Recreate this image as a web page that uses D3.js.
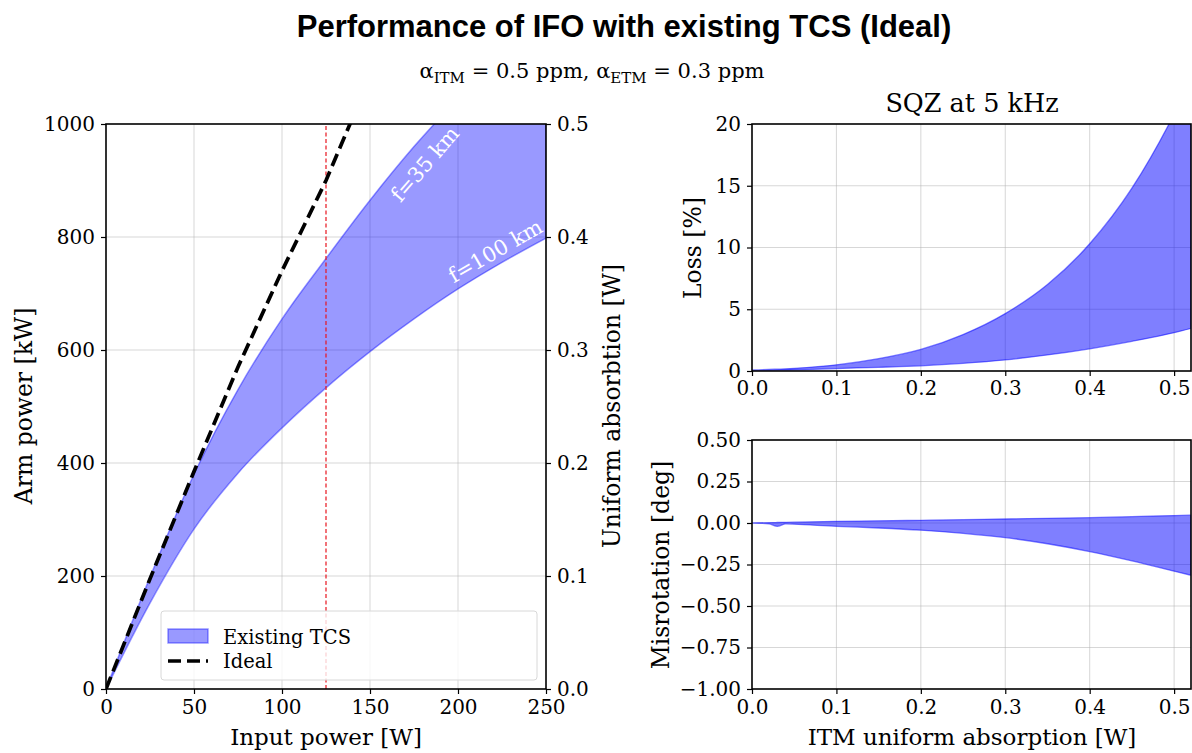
<!DOCTYPE html>
<html>
<head>
<meta charset="utf-8">
<title>Performance of IFO with existing TCS</title>
<style>
  body { margin: 0; background: #fff; }
  text { font-family: "DejaVu Serif", serif; fill: #000; }
  .grid line { stroke: #b0b0b0; stroke-opacity: 0.5; }
</style>
</head>
<body>
<div id="chart"></div>
<script src="https://cdn.jsdelivr.net/npm/d3@7"></script>
<script>
(function(d3) {
  'use strict';

  // left panel: arm power vs input power
  var inputPower = [0, 25, 50, 75, 100, 125, 150, 175, 200, 225, 250];
  var armUpper35 = [0, 198, 380, 530, 655, 762, 865, 960, 1045, 1125, 1200];
  var armLower100 = [0, 152, 283, 382, 462, 533, 597, 655, 708, 755, 798];
  var idealPower = [0, 25, 50, 75, 100, 125, 140];
  var idealArm = [0, 195, 385, 570, 740, 900, 1010];
  var markerPower = 125;

  // right panels: squeezing at 5 kHz vs ITM absorption
  var absorption = [0, 0.02, 0.03, 0.04, 0.05, 0.1, 0.15, 0.2, 0.25, 0.3, 0.35, 0.4, 0.45, 0.5, 0.52];
  var lossUpper = [0.08, 0.12, 0.15, 0.18, 0.22, 0.5, 1.0, 1.75, 2.95, 4.65, 7.0, 10.3, 14.8, 20.8, 23.6];
  var lossLower = [0.05, 0.06, 0.07, 0.08, 0.09, 0.2, 0.3, 0.42, 0.62, 0.9, 1.3, 1.8, 2.4, 3.1, 3.45];
  var misUpper = [0, 0.002, 0.003, 0.004, 0.005, 0.01, 0.013, 0.016, 0.02, 0.024, 0.028, 0.032, 0.038, 0.045, 0.047];
  var misLower = [0, -0.005, -0.02, -0.005, -0.007, -0.02, -0.03, -0.043, -0.062, -0.088, -0.125, -0.172, -0.228, -0.29, -0.315];

  var leftYTicks = [0, 200, 400, 600, 800, 1000];
  var rightYTicks = [0, 0.1, 0.2, 0.3, 0.4, 0.5];
  var leftXTicks = [0, 50, 100, 150, 200, 250];
  var absTicks = [0, 0.1, 0.2, 0.3, 0.4, 0.5];
  var lossTicks = [0, 5, 10, 15, 20];
  var misTicks = [0.5, 0.25, 0, -0.25, -0.5, -0.75, -1.0];

  var width = 1192, height = 753;
  var svg = d3.select('#chart').append('svg')
    .attr('width', width).attr('height', height);

  svg.append('text')
    .attr('x', 624).attr('y', 37)
    .attr('text-anchor', 'middle')
    .style('font-family', '"Liberation Sans", Arial, sans-serif')
    .style('font-weight', 'bold')
    .style('font-size', '31px')
    .text('Performance of IFO with existing TCS (Ideal)');

  var sub = svg.append('text')
    .attr('x', 592).attr('y', 78)
    .attr('text-anchor', 'middle')
    .style('font-size', '21px');
  sub.append('tspan').text('α');
  sub.append('tspan').attr('dy', 5).style('font-size', '15px').text('ITM');
  sub.append('tspan').attr('dy', -5).text(' = 0.5 ppm, α');
  sub.append('tspan').attr('dy', 5).style('font-size', '15px').text('ETM');
  sub.append('tspan').attr('dy', -5).text(' = 0.3 ppm');

  function panel(id, x0, x1, y0, y1) {
    var g = svg.append('g');
    g.append('clipPath').attr('id', id)
      .append('rect').attr('x', x0).attr('y', y0)
      .attr('width', x1 - x0).attr('height', y1 - y0);
    return g;
  }

  function grid(g, xs, ys, x, y) {
    var gg = g.append('g').attr('class', 'grid');
    gg.selectAll('.gx').data(xs).enter().append('line')
      .attr('x1', x).attr('x2', x)
      .attr('y1', y.range()[0]).attr('y2', y.range()[1]);
    gg.selectAll('.gy').data(ys).enter().append('line')
      .attr('y1', y).attr('y2', y)
      .attr('x1', x.range()[0]).attr('x2', x.range()[1]);
  }

  function frame(g, x, y) {
    g.append('rect')
      .attr('x', x.range()[0]).attr('y', y.range()[1])
      .attr('width', x.range()[1] - x.range()[0])
      .attr('height', y.range()[0] - y.range()[1])
      .attr('fill', 'none').attr('stroke', '#000').attr('stroke-width', 1.6);
  }

  function styleAxis(a) {
    a.select('.domain').remove();
    a.selectAll('.tick line').attr('stroke', '#000').attr('stroke-width', 1.2);
    a.selectAll('.tick text')
      .style('font-family', '"DejaVu Serif", serif')
      .style('font-size', '20px');
  }

  function band(xs, lo, hi) {
    return xs.map(function(v, i) { return { x: v, lo: lo[i], hi: hi[i] }; });
  }

  // ---------- left panel ----------
  var xL = d3.scaleLinear().domain([0, 250]).range([106, 546]);
  var yL = d3.scaleLinear().domain([0, 1000]).range([689, 124]);
  var yR = d3.scaleLinear().domain([0, 0.5]).range([689, 124]);
  var gl = panel('clipL', 106, 546, 124, 689);
  grid(gl, [50, 100, 150, 200], [200, 400, 600, 800], xL, yL);

  var dL = band(inputPower, armLower100, armUpper35);
  var areaL = d3.area().curve(d3.curveMonotoneX)
    .x(function(d) { return xL(d.x); })
    .y0(function(d) { return yL(d.lo); })
    .y1(function(d) { return yL(d.hi); });
  gl.append('path').datum(dL).attr('d', areaL)
    .attr('clip-path', 'url(#clipL)')
    .attr('fill', '#0000ff').attr('fill-opacity', 0.4)
    .attr('stroke', '#0000ff').attr('stroke-opacity', 0.4).attr('stroke-width', 1.5);

  gl.append('line')
    .attr('x1', xL(markerPower)).attr('x2', xL(markerPower))
    .attr('y1', 689).attr('y2', 124)
    .attr('stroke', '#e8141e').attr('stroke-width', 1.2)
    .attr('stroke-dasharray', '4,2.5');

  var idealLine = d3.line()
    .x(function(d, i) { return xL(idealPower[i]); })
    .y(function(d) { return yL(d); });
  gl.append('path').datum(idealArm).attr('d', idealLine)
    .attr('clip-path', 'url(#clipL)')
    .attr('fill', 'none').attr('stroke', '#000').attr('stroke-width', 3.7)
    .attr('stroke-dasharray', '13,6');

  // curve labels, rotated along their curve
  function curveLabel(txt, xv, arr, off, along) {
    var i = inputPower.indexOf(xv);
    var xa = xL(inputPower[i - 1]), xb = xL(inputPower[i + 1]);
    var ya = yL(arr[i - 1]), yb = yL(arr[i + 1]);
    var ang = Math.atan2(yb - ya, xb - xa) * 180 / Math.PI;
    gl.append('text')
      .attr('transform', 'translate(' + xL(xv) + ',' + yL(arr[i]) + ') rotate(' + ang + ')')
      .attr('x', along).attr('y', off)
      .attr('text-anchor', 'middle')
      .style('font-size', '21px').style('fill', '#fff')
      .text(txt);
  }
  curveLabel('f=35 km', 175, armUpper35, 27, -6);
  curveLabel('f=100 km', 225, armLower100, -6, 0);

  frame(gl, xL, yL);

  styleAxis(gl.append('g').attr('transform', 'translate(106,0)')
    .call(d3.axisLeft(yL).tickValues(leftYTicks).tickFormat(d3.format('d'))
      .tickSize(5).tickPadding(6)));
  styleAxis(gl.append('g').attr('transform', 'translate(546,0)')
    .call(d3.axisRight(yR).tickValues(rightYTicks).tickFormat(d3.format('.1f'))
      .tickSize(5).tickPadding(6)));
  styleAxis(gl.append('g').attr('transform', 'translate(0,689)')
    .call(d3.axisBottom(xL).tickValues(leftXTicks).tickSize(5).tickPadding(6)));

  gl.append('text').attr('x', 326).attr('y', 745)
    .attr('text-anchor', 'middle').style('font-size', '23px').text('Input power [W]');
  gl.append('text').attr('transform', 'translate(32,406) rotate(-90)')
    .attr('text-anchor', 'middle').style('font-size', '23.5px').text('Arm power [kW]');
  gl.append('text').attr('transform', 'translate(620,406) rotate(-90)')
    .attr('text-anchor', 'middle').style('font-size', '23.5px').text('Uniform absorbtion [W]');

  // legend
  var lg = gl.append('g');
  lg.append('rect').attr('x', 161).attr('y', 611).attr('width', 376).attr('height', 69)
    .attr('rx', 3).attr('fill', '#fff').attr('fill-opacity', 0.8)
    .attr('stroke', '#d8d8d8').attr('stroke-width', 1);
  lg.append('rect').attr('x', 168).attr('y', 629).attr('width', 40).attr('height', 14)
    .attr('fill', '#0000ff').attr('fill-opacity', 0.4)
    .attr('stroke', '#0000ff').attr('stroke-opacity', 0.4).attr('stroke-width', 1.5);
  lg.append('line').attr('x1', 168).attr('x2', 208).attr('y1', 661).attr('y2', 661)
    .attr('stroke', '#000').attr('stroke-width', 3.7).attr('stroke-dasharray', '13,6');
  lg.append('text').attr('x', 223).attr('y', 644).style('font-size', '19.5px').text('Existing TCS');
  lg.append('text').attr('x', 223).attr('y', 668).style('font-size', '19.5px').text('Ideal');

  // ---------- right panels ----------
  var xA = d3.scaleLinear().domain([0, 0.52]).range([752, 1191]);
  var yLoss = d3.scaleLinear().domain([0, 20]).range([371, 124]);
  var yMis = d3.scaleLinear().domain([-1, 0.5]).range([689, 440]);

  function rightBand(g, clip, lo, hi, y) {
    var d = band(absorption, lo, hi);
    var a = d3.area().curve(d3.curveMonotoneX)
      .x(function(p) { return xA(p.x); })
      .y0(function(p) { return y(p.lo); })
      .y1(function(p) { return y(p.hi); });
    g.append('path').datum(d).attr('d', a)
      .attr('clip-path', 'url(#' + clip + ')')
      .attr('fill', '#0000ff').attr('fill-opacity', 0.5)
      .attr('stroke', '#0000ff').attr('stroke-opacity', 0.5).attr('stroke-width', 1.3);
  }

  var gt = panel('clipT', 752, 1191, 124, 371);
  grid(gt, [0.1, 0.2, 0.3, 0.4, 0.5], [5, 10, 15], xA, yLoss);
  rightBand(gt, 'clipT', lossLower, lossUpper, yLoss);
  frame(gt, xA, yLoss);
  styleAxis(gt.append('g').attr('transform', 'translate(752,0)')
    .call(d3.axisLeft(yLoss).tickValues(lossTicks).tickSize(5).tickPadding(6)));
  styleAxis(gt.append('g').attr('transform', 'translate(0,371)')
    .call(d3.axisBottom(xA).tickValues(absTicks).tickFormat(d3.format('.1f'))
      .tickSize(5).tickPadding(5)));
  gt.append('text').attr('x', 972).attr('y', 112)
    .attr('text-anchor', 'middle').style('font-size', '25.5px').text('SQZ at 5 kHz');
  gt.append('text').attr('transform', 'translate(701,248) rotate(-90)')
    .attr('text-anchor', 'middle').style('font-size', '23.5px').text('Loss [%]');

  var gb = panel('clipB', 752, 1191, 440, 689);
  grid(gb, [0.1, 0.2, 0.3, 0.4, 0.5], [0.25, 0, -0.25, -0.5, -0.75], xA, yMis);
  rightBand(gb, 'clipB', misLower, misUpper, yMis);
  frame(gb, xA, yMis);
  styleAxis(gb.append('g').attr('transform', 'translate(752,0)')
    .call(d3.axisLeft(yMis).tickValues(misTicks).tickFormat(d3.format('.2f'))
      .tickSize(5).tickPadding(6)));
  styleAxis(gb.append('g').attr('transform', 'translate(0,689)')
    .call(d3.axisBottom(xA).tickValues(absTicks).tickFormat(d3.format('.1f'))
      .tickSize(5).tickPadding(6)));
  gb.append('text').attr('x', 972).attr('y', 745)
    .attr('text-anchor', 'middle').style('font-size', '23px').text('ITM uniform absorption [W]');
  gb.append('text').attr('transform', 'translate(669,565) rotate(-90)')
    .attr('text-anchor', 'middle').style('font-size', '23.5px').text('Misrotation [deg]');
})(window.d3);
</script>
</body>
</html>
